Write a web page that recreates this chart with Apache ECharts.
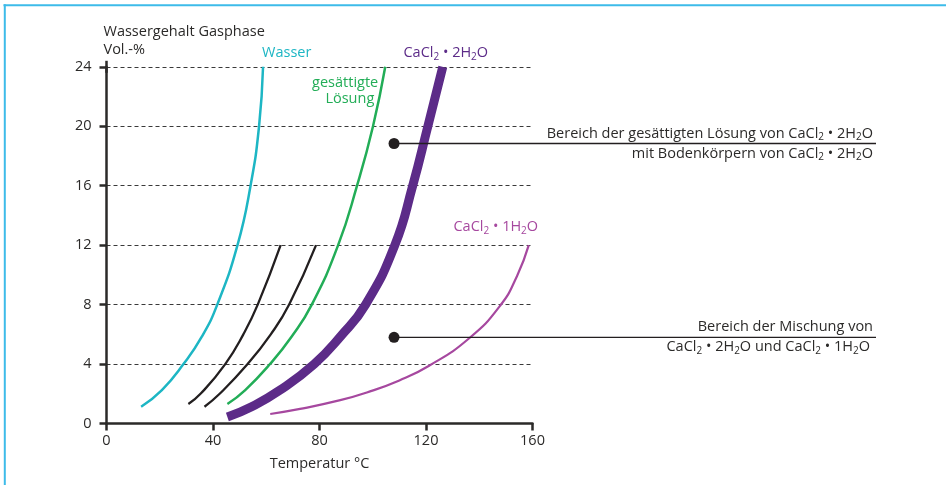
<!DOCTYPE html>
<html><head><meta charset="utf-8">
<script src="https://cdn.jsdelivr.net/npm/echarts@6/dist/echarts.min.js"></script>
<style>html,body{margin:0;padding:0;background:#fff}#c{width:946px;height:485px}</style>
</head><body><div id="c"></div>
<script>
// ---- data ----
const xTickValues = [0, 40, 80, 120, 160];
const yTickValues = [0, 4, 8, 12, 16, 20, 24];
const wasser      = [[13.0,1.13],[20.8,2.25],[28.9,4],[35.8,5.84],[41.6,8],[49.2,12],[54.1,16],[57.3,20],[58.8,24]];
const isoA        = [[30.75,1.31],[35.5,2.03],[44.6,4],[51.4,6],[56.8,8],[65.4,12]];
const isoB        = [[36.8,1.13],[42.5,2],[53.0,4],[61.7,6],[68.6,8],[78.7,12]];
const gesLoesung  = [[45.4,1.31],[52.1,2.25],[61.4,4],[69.5,5.84],[77.1,8],[87.0,12],[94.1,16],[100.1,20],[104.7,24]];
const cacl2Di     = [[45.4,0.44],[54.5,1.13],[65.2,2.25],[78.0,4],[87.8,5.84],[97.3,8],[108.3,12],[115.0,16],[120.7,20],[126.3,24]];
const cacl2Mono   = [[61.5,0.64],[72.7,0.98],[87.8,1.57],[97.8,2.09],[110,2.9],[121,3.87],[136,5.7],[147.9,7.94],[154.2,9.93],[158.6,12]];
const markerPoints = [[108,18.84],[108,5.8]];

const FONT = '"Open Sans", "Noto Sans", sans-serif';
const FS = 14.5;
const DARK = '#2b2a29';
const C_CYAN = '#1db6c4', C_GREEN = '#22ad57', C_PURPLE = '#5c2b88', C_MAG = '#a6489f', BLUE = '#3dbbe9';

const chart = echarts.init(document.getElementById('c'), null, {renderer: 'canvas'});

function curve(name, data, color, width) {
  return {
    name, type: 'line', data, smooth: 0.5, showSymbol: false, symbol: 'none',
    lineStyle: {color, width, cap: 'butt'}, silent: true, z: 3
  };
}

chart.setOption({
  animation: false,
  textStyle: {fontFamily: FONT},
  grid: {left: 106.5, right: 946 - 532.5, top: 66.8, bottom: 485 - 423.5, containLabel: false},
  xAxis: {
    type: 'value', min: xTickValues[0], max: xTickValues[xTickValues.length - 1], interval: 40,
    name: 'Temperatur °C', nameLocation: 'middle', nameGap: 33,
    nameTextStyle: {fontSize: FS, color: DARK, fontFamily: FONT},
    axisLine: {show: true, onZero: false, lineStyle: {color: DARK, width: 2.5}},
    axisTick: {show: true, length: 7, lineStyle: {color: DARK, width: 2.5}},
    axisLabel: {margin: 10, fontSize: FS, color: DARK, fontFamily: FONT},
    splitLine: {show: false}
  },
  yAxis: {
    type: 'value', min: yTickValues[0], max: yTickValues[yTickValues.length - 1], interval: 4,
    name: 'Wassergehalt Gasphase\nVol.-%', nameLocation: 'end', nameGap: 8,
    nameTextStyle: {fontSize: FS, color: DARK, fontFamily: FONT, align: 'left', verticalAlign: 'bottom', lineHeight: 18, padding: [0, 0, 0, -3]},
    axisLine: {show: true, onZero: false, symbol: ['none', 'rect'], symbolSize: [2.5, 12], lineStyle: {color: DARK, width: 2.5}},
    axisTick: {show: true, length: 7, lineStyle: {color: DARK, width: 2.5}},
    axisLabel: {margin: 15, fontSize: FS, color: DARK, fontFamily: FONT},
    splitLine: {show: true, lineStyle: {color: '#3a3a3a', width: 1, type: [4, 3]}}
  },
  series: [
    curve('Wasser', wasser, C_CYAN, 2.5),
    curve('Isolinie A', isoA, '#231f20', 2.3),
    curve('Isolinie B', isoB, '#231f20', 2.3),
    curve('gesättigte Lösung', gesLoesung, C_GREEN, 2.5),
    curve('CaCl2 · 1H2O', cacl2Mono, C_MAG, 2.2),
    curve('CaCl2 · 2H2O', cacl2Di, C_PURPLE, 9),
    {name: 'Bereiche', type: 'scatter', data: markerPoints, symbolSize: 11, itemStyle: {color: '#231f20', opacity: 1}, z: 6, silent: true}
  ]
});

const px = p => chart.convertToPixel({xAxisIndex: 0, yAxisIndex: 0}, p);
const rich = {
  n: {fontSize: FS, lineHeight: 18, fontFamily: FONT},
  s: {fontSize: 10, lineHeight: 6, verticalAlign: 'bottom', fontFamily: FONT}
};
function richText(str, x, y, color, align, vAlign) {
  const r = {};
  Object.keys(rich).forEach(k => { r[k] = Object.assign({}, rich[k], {fill: color}); });
  return {type: 'text', z: 10, silent: true, style: {text: str, x, y, fill: color, align, verticalAlign: vAlign, rich: r, font: FS + 'px ' + FONT}};
}
const F_DI = '{n|CaCl}{s|2}{n| • 2H}{s|2}{n|O}';
const F_MONO = '{n|CaCl}{s|2}{n| • 1H}{s|2}{n|O}';

const wEnd = px(wasser[wasser.length - 1]);
const gEnd = px(gesLoesung[gesLoesung.length - 1]);
const dEnd = px(cacl2Di[cacl2Di.length - 1]);
const mEnd = px(cacl2Mono[cacl2Mono.length - 1]);
const m1 = px(markerPoints[0]);
const m2 = px(markerPoints[1]);
const LINE_END = 876;
const TEXT_RIGHT = 873;

const graphics = [
  {type: 'line', silent: true, shape: {x1: 3.5, y1: 5.2, x2: 946, y2: 5.2}, style: {stroke: BLUE, lineWidth: 2}},
  {type: 'line', silent: true, shape: {x1: 4.8, y1: 4.2, x2: 4.8, y2: 485}, style: {stroke: BLUE, lineWidth: 2}},
  richText('{n|Wasser}', wEnd[0] - 1, wEnd[1] - 14, C_CYAN, 'left', 'middle'),
  richText(F_DI, dEnd[0] + 3, dEnd[1] - 14, C_PURPLE, 'center', 'middle'),
  richText('{n|gesättigte}', gEnd[0] - 7, gEnd[1] + 16, C_GREEN, 'right', 'middle'),
  richText('{n|Lösung}', gEnd[0] - 11, gEnd[1] + 32, C_GREEN, 'right', 'middle'),
  richText(F_MONO, mEnd[0] - 33, mEnd[1] - 18, C_MAG, 'center', 'middle'),
  {type: 'line', silent: true, z: 5, shape: {x1: m1[0], y1: m1[1], x2: LINE_END, y2: m1[1]}, style: {stroke: '#231f20', lineWidth: 1.3}},
  {type: 'line', silent: true, z: 5, shape: {x1: m2[0], y1: m2[1], x2: LINE_END, y2: m2[1]}, style: {stroke: '#231f20', lineWidth: 1.3}},
  richText('{n|Bereich der gesättigten Lösung von CaCl}{s|2}{n| • 2H}{s|2}{n|O}', TEXT_RIGHT, m1[1] - 1, DARK, 'right', 'bottom'),
  richText('{n|mit Bodenkörpern von CaCl}{s|2}{n| • 2H}{s|2}{n|O}', TEXT_RIGHT, m1[1] + 1, DARK, 'right', 'top'),
  richText('{n|Bereich der Mischung von}', TEXT_RIGHT, m2[1] - 1, DARK, 'right', 'bottom'),
  richText('{n|CaCl}{s|2}{n| • 2H}{s|2}{n|O und CaCl}{s|2}{n| • 1H}{s|2}{n|O}', TEXT_RIGHT - 3, m2[1] + 1, DARK, 'right', 'top')
];
chart.setOption({graphic: graphics});
</script></body></html>
